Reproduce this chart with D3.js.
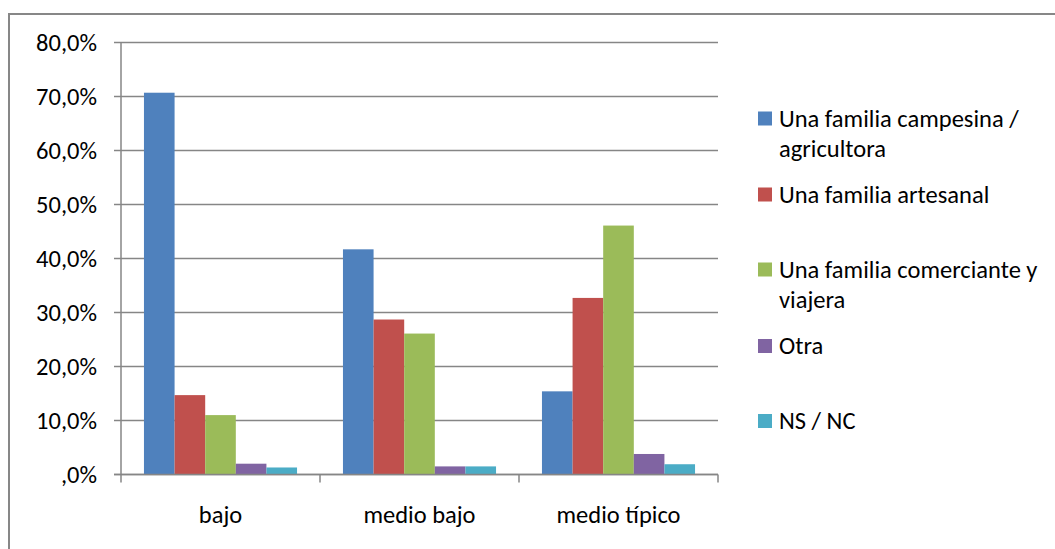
<!DOCTYPE html>
<html>
<head>
<meta charset="utf-8">
<script src="https://cdn.jsdelivr.net/npm/d3@7"></script>
<style>
  html, body { margin: 0; padding: 0; background: #fff; }
  svg { display: block; }
  text { font-family: Carlito, Calibri, Lato, "Open Sans", sans-serif; fill: #000; }
</style>
</head>
<body>
<svg id="chart" width="1055" height="549"></svg>
<script>
const categories = ["bajo", "medio bajo", "medio típico"];
const seriesNames = [
  "Una familia campesina / agricultora",
  "Una familia artesanal",
  "Una familia comerciante y viajera",
  "Otra",
  "NS / NC"
];
const campesina = [70.7, 41.7, 15.4];
const artesanal = [14.7, 28.7, 32.7];
const comerciante = [11.0, 26.1, 46.1];
const otra = [2.0, 1.5, 3.8];
const nsnc = [1.3, 1.5, 1.9];
const yTicks = [0, 10, 20, 30, 40, 50, 60, 70, 80];
const colors = ["#4F81BD", "#C0504D", "#9BBB59", "#8064A2", "#4BACC6"];
const legendLines = [
  ["Una familia campesina /", "agricultora"],
  ["Una familia artesanal"],
  ["Una familia comerciante y", "viajera"],
  ["Otra"],
  ["NS / NC"]
];

const seriesValues = [campesina, artesanal, comerciante, otra, nsnc];

const svg = d3.select("#chart");
const fontSize = 24.5;
const gridColor = "#868686";

// outer frame
svg.append("path")
  .attr("d", "M9,549 L9,14 L1055,14")
  .attr("fill", "none")
  .attr("stroke", "#878787")
  .attr("stroke-width", 2);

const plotL = 121, plotR = 718, plotT = 42.5, plotB = 474.5;

const x0 = d3.scaleBand().domain(categories).range([plotL, plotR]).paddingInner(0).paddingOuter(0);
const bw = x0.bandwidth();
const barW = bw / 6.5;
const x1 = d3.scaleBand().domain(d3.range(seriesNames.length))
  .range([barW * 0.75, bw - barW * 0.75]).padding(0);
const y = d3.scaleLinear().domain([0, 80]).range([plotB, plotT]);

// gridlines + y ticks
svg.append("g").selectAll("line").data(yTicks).join("line")
  .attr("x1", plotL - 7).attr("x2", plotR)
  .attr("y1", d => y(d)).attr("y2", d => y(d))
  .attr("stroke", gridColor).attr("stroke-width", 1.5);

const fmt = d => (d === 0 ? ",0%" : d3.format(".1f")(d).replace(".", ",") + "%");
svg.append("g").selectAll("text").data(yTicks).join("text")
  .attr("x", 97).attr("y", d => y(d))
  .attr("text-anchor", "end").attr("dominant-baseline", "central")
  .attr("font-size", fontSize)
  .text(fmt);

// bars
const groups = svg.append("g").selectAll("g").data(categories).join("g")
  .attr("transform", c => `translate(${x0(c)},0)`);
groups.selectAll("rect")
  .data((c, ci) => seriesValues.map((vals, si) => ({ si, v: vals[ci] })))
  .join("rect")
  .attr("x", d => x1(d.si))
  .attr("width", x1.bandwidth())
  .attr("y", d => y(d.v))
  .attr("height", d => y(0) - y(d.v))
  .attr("fill", d => colors[d.si]);

// axes lines
svg.append("line").attr("x1", plotL).attr("x2", plotL).attr("y1", plotT).attr("y2", plotB)
  .attr("stroke", gridColor).attr("stroke-width", 1.5);
svg.append("line").attr("x1", plotL - 7).attr("x2", plotR).attr("y1", plotB).attr("y2", plotB)
  .attr("stroke", gridColor).attr("stroke-width", 1.5);
const xTickPos = categories.map(c => x0(c)).concat([plotR]);
svg.append("g").selectAll("line").data(xTickPos).join("line")
  .attr("x1", d => d).attr("x2", d => d)
  .attr("y1", plotB).attr("y2", plotB + 8)
  .attr("stroke", gridColor).attr("stroke-width", 1.5);

// category labels
svg.append("g").selectAll("text").data(categories).join("text")
  .attr("x", c => x0(c) + bw / 2).attr("y", 515)
  .attr("text-anchor", "middle").attr("dominant-baseline", "central")
  .attr("font-size", fontSize)
  .text(c => c);

// legend
const legendY = [118.5, 194.5, 269.5, 346, 421];
const lg = svg.append("g").selectAll("g").data(legendLines).join("g")
  .attr("transform", (d, i) => `translate(758,${legendY[i]})`);
lg.append("rect").attr("x", 0).attr("y", -7).attr("width", 14).attr("height", 14)
  .attr("fill", (d, i) => colors[i]);
lg.each(function(lines) {
  const g = d3.select(this);
  lines.forEach((t, k) => {
    g.append("text").attr("x", 21).attr("y", k * 30)
      .attr("dominant-baseline", "central")
      .attr("font-size", fontSize)
      .text(t);
  });
});
</script>
</body>
</html>
